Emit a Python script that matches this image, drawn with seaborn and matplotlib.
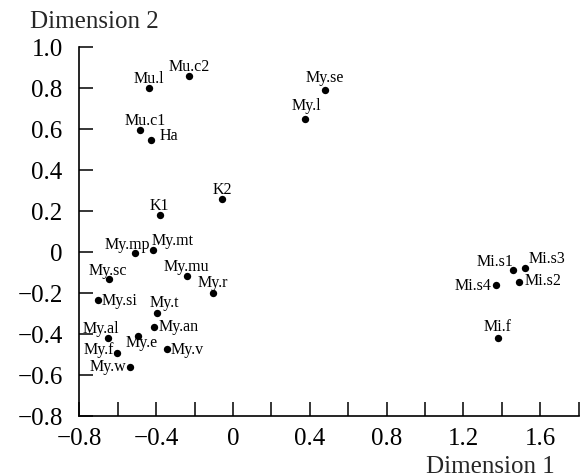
import matplotlib
matplotlib.use('Agg')
from matplotlib import pyplot as plt
from matplotlib import ticker
import pandas as pd
import seaborn as sns

# sample names and coordinates
names = ['Mu.l', 'Mu.c2', 'Mu.c1', 'Ha', 'K1', 'K2', 'My.mp', 'My.mt', 'My.sc',
         'My.mu', 'My.r', 'My.si', 'My.t', 'My.an', 'My.al', 'My.e', 'My.f',
         'My.v', 'My.w', 'My.se', 'My.l', 'Mi.s1', 'Mi.s3', 'Mi.s2', 'Mi.s4', 'Mi.f']
dim1 = [-0.435, -0.227, -0.482, -0.427, -0.380, -0.055, -0.510, -0.416, -0.644,
        -0.241, -0.105, -0.704, -0.394, -0.413, -0.652, -0.496, -0.602,
        -0.343, -0.534, 0.481, 0.377, 1.460, 1.521, 1.490, 1.370, 1.382]
dim2 = [0.800, 0.859, 0.592, 0.546, 0.179, 0.257, -0.006, 0.007, -0.135,
        -0.119, -0.201, -0.236, -0.300, -0.367, -0.420, -0.410, -0.496,
        -0.475, -0.562, 0.787, 0.646, -0.089, -0.078, -0.149, -0.161, -0.420]

# label offsets from the dot (pixels, label centre)
offsets = {
    'Mu.l': (0, 10), 'Mu.c2': (0, 10), 'Mu.c1': (5, 10), 'Ha': (18, 5),
    'K1': (-1, 10), 'K2': (0, 10), 'My.mp': (-8, 9), 'My.mt': (20, 10),
    'My.sc': (-1, 9), 'My.mu': (0, 10), 'My.r': (0, 11), 'My.si': (22, 0),
    'My.t': (7, 11), 'My.an': (25, 1), 'My.al': (-7, 10), 'My.e': (4, -6),
    'My.f': (-18, 4), 'My.v': (20, 0), 'My.w': (-22, 1), 'My.se': (0, 13),
    'My.l': (1, 14), 'Mi.s1': (-18, 9), 'Mi.s3': (22, 10), 'Mi.s2': (24, 2),
    'Mi.s4': (-23, 0), 'Mi.f': (-1, 12),
}

df = pd.DataFrame({'name': names, 'Dimension 1': dim1, 'Dimension 2': dim2})

sns.set_style('white')
plt.rcParams['font.family'] = ['Liberation Serif', 'DejaVu Serif']

fig = plt.figure(figsize=(5.81, 4.77), dpi=100)
ax = fig.add_axes([0.1365, 0.1264, 0.8592, 0.7736])

sns.scatterplot(data=df, x='Dimension 1', y='Dimension 2', color='black',
                s=28, edgecolor='black', linewidth=0, ax=ax, legend=False)

for n, x, y in zip(names, dim1, dim2):
    dx, dy = offsets[n]
    ax.annotate(n, (x, y), xytext=(dx, dy), textcoords='offset pixels',
                ha='center', va='center', fontsize=11.5, color='black')

ax.set_xlim(-0.8, 1.8)
ax.set_ylim(-0.8, 1.0)
ax.xaxis.set_major_locator(ticker.MultipleLocator(0.4))
ax.xaxis.set_minor_locator(ticker.MultipleLocator(0.2))
ax.yaxis.set_major_locator(ticker.MultipleLocator(0.2))

fmt = ticker.FuncFormatter(lambda v, p: '0' if abs(v) < 1e-9 else ('%.1f' % v).replace('-', '\u2212'))
ax.xaxis.set_major_formatter(fmt)
ax.yaxis.set_major_formatter(fmt)

ax.tick_params(axis='both', which='both', direction='in', length=10, width=1.1,
               color='black', labelsize=18, labelcolor='black',
               bottom=True, left=True, top=False, right=False)
ax.tick_params(axis='y', pad=12)
ax.tick_params(axis='x', pad=8)

sns.despine(ax=ax)
for side in ['left', 'bottom']:
    ax.spines[side].set_color('black')
    ax.spines[side].set_linewidth(1.2)

ax.set_xlabel('')
ax.set_ylabel('')
fig.text(30 / 581, 0.9406, 'Dimension 2', ha='left', va='baseline', fontsize=18)
fig.text(555 / 581, 0.0084, 'Dimension 1', ha='right', va='baseline', fontsize=18)

fig.savefig('out.png', dpi=100)
